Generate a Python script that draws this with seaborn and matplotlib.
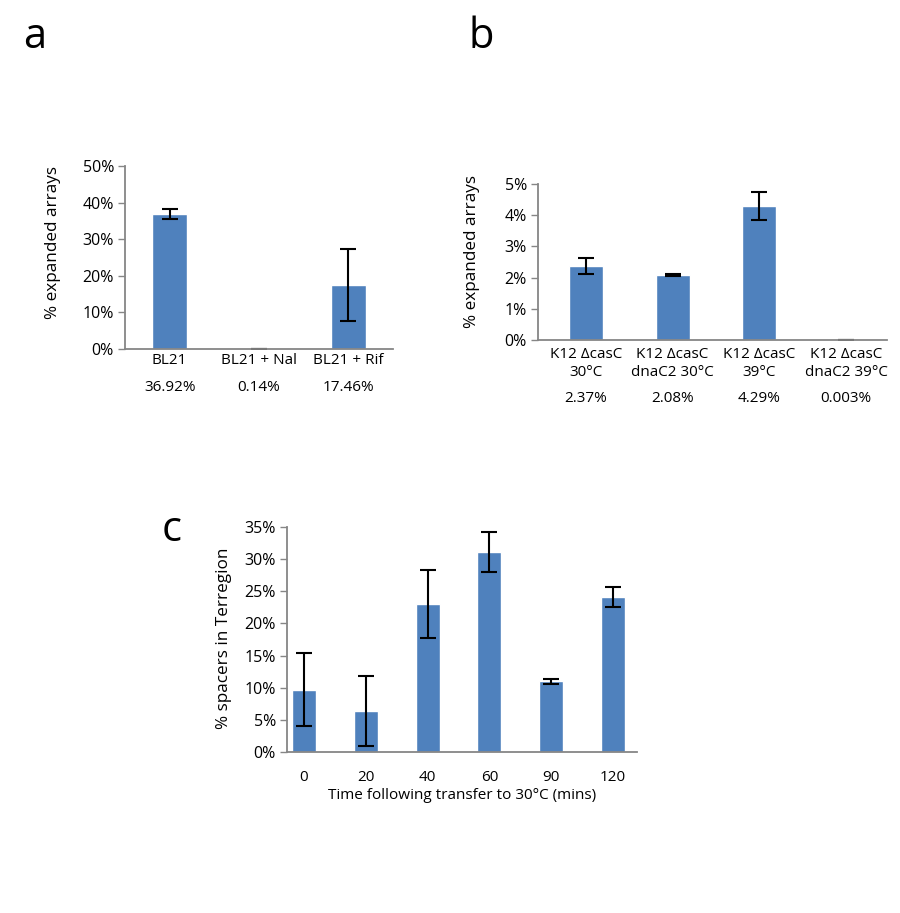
import matplotlib
matplotlib.use('Agg')
import matplotlib.pyplot as plt
import seaborn as sns
import pandas as pd
from matplotlib.ticker import FuncFormatter, MultipleLocator

# panel a
a_labels = ['BL21', 'BL21 + Nal', 'BL21 + Rif']
a_values = [36.92, 0.14, 17.46]
a_errors = [1.3, 0.0, 9.8]
a_pct = ['36.92%', '0.14%', '17.46%']

# panel b
b_labels = ['K12 \u0394casC\n30\u00b0C', 'K12 \u0394casC\ndnaC2 30\u00b0C',
            'K12 \u0394casC\n39\u00b0C', 'K12 \u0394casC\ndnaC2 39\u00b0C']
b_values = [2.37, 2.08, 4.29, 0.003]
b_errors = [0.25, 0.02, 0.45, 0.01]
b_pct = ['2.37%', '2.08%', '4.29%', '0.003%']

# panel c
c_labels = ['0', '20', '40', '60', '90', '120']
c_values = [9.7, 6.4, 23.0, 31.1, 11.0, 24.1]
c_errors = [5.7, 5.5, 5.25, 3.15, 0.4, 1.55]

sns.set_style('white')
plt.rcParams['font.family'] = ['Open Sans', 'DejaVu Sans']
plt.rcParams['text.color'] = 'black'
plt.rcParams['axes.labelcolor'] = 'black'
plt.rcParams['xtick.labelcolor'] = 'black'
plt.rcParams['ytick.labelcolor'] = 'black'

blue = '#4F81BD'
gray = '#868686'
fs = 11
lfs = 12.3

fig = plt.figure(figsize=(9, 9.13), dpi=100)
ax_a = fig.add_axes([0.1389, 0.6177, 0.2978, 0.2005])
ax_b = fig.add_axes([0.5978, 0.6276, 0.3878, 0.1709])
ax_c = fig.add_axes([0.3189, 0.1763, 0.3889, 0.2465])


def draw(ax, labels, values, errors, ymax, step):
    df = pd.DataFrame({'cat': labels, 'val': values})
    sns.barplot(data=df, x='cat', y='val', color=blue, width=0.39, ax=ax,
                saturation=1, errorbar=None)
    ax.errorbar(range(len(values)), values, yerr=errors, fmt='none',
                ecolor='black', elinewidth=1.5, capsize=6, capthick=1.5)
    ax.set_ylim(0, ymax)
    ax.yaxis.set_major_locator(MultipleLocator(step))
    ax.yaxis.set_major_formatter(FuncFormatter(lambda v, p: f'{v:.0f}%'))
    sns.despine(ax=ax)
    for s in ['left', 'bottom']:
        ax.spines[s].set_color(gray)
        ax.spines[s].set_linewidth(1.3)
    ax.tick_params(axis='y', which='major', left=True, length=5, width=1,
                   color=gray, labelsize=11.5, pad=3)
    ax.tick_params(axis='x', bottom=False, length=0, labelsize=fs, pad=2.5)
    ax.set_xlabel('')


draw(ax_a, a_labels, a_values, a_errors, 50, 10)
ax_a.set_xlim(-0.5, 2.5)
ax_a.set_ylabel('% expanded arrays', fontsize=lfs)
ax_a.yaxis.set_label_coords(-0.24, 0.58)
for i, t in enumerate(a_pct):
    ax_a.annotate(t, xy=(i, 0), xycoords=('data', 'axes fraction'),
                  xytext=(0, -28), textcoords='offset points',
                  ha='center', va='center', fontsize=fs)

draw(ax_b, b_labels, b_values, b_errors, 5, 1)
ax_b.set_xlim(-0.55, 3.47)
ax_b.set_ylabel('% expanded arrays', fontsize=lfs)
ax_b.yaxis.set_label_coords(-0.166, 0.564)
ax_b.tick_params(axis='x', pad=5)
for t in ax_b.get_xticklabels():
    t.set_linespacing(1.25)
for i, t in enumerate(b_pct):
    ax_b.annotate(t, xy=(i, 0), xycoords=('data', 'axes fraction'),
                  xytext=(0, -42), textcoords='offset points',
                  ha='center', va='center', fontsize=fs)

draw(ax_c, c_labels, c_values, c_errors, 35, 5)
ax_c.set_xlim(-0.275, 5.39)
ax_c.set_ylabel('% spacers in Terregion', fontsize=lfs)
ax_c.yaxis.set_label_coords(-0.157, 0.507)
ax_c.tick_params(axis='x', pad=13)
ax_c.set_xlabel('Time following transfer to 30\u00b0C (mins)', fontsize=fs, labelpad=2)

fig.text(0.026, 0.96, 'a', fontsize=30, va='center')
fig.text(0.521, 0.96, 'b', fontsize=30, va='center')
fig.text(0.180, 0.42, 'c', fontsize=30, va='center')

fig.savefig('out.png', dpi=100)
